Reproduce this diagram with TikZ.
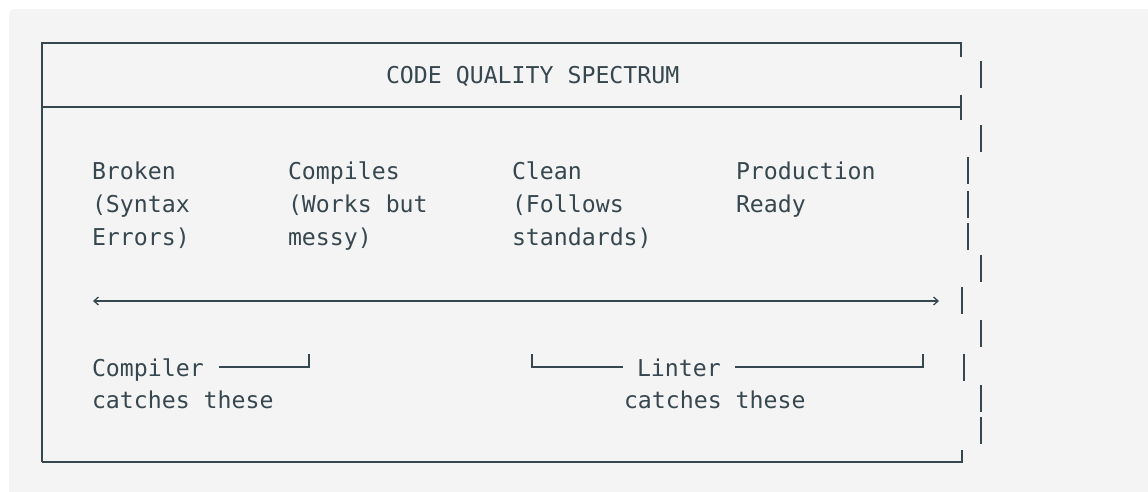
\documentclass[tikz,border=0pt]{standalone}
\usepackage{fontspec}
\setmonofont{DejaVu Sans Mono}
\usetikzlibrary{arrows.meta}
\definecolor{ink}{HTML}{37474F}
\definecolor{bg}{HTML}{F4F4F4}
\tikzset{
  txt/.style={anchor=base west, inner sep=0pt, outer sep=0pt, text=ink, font=\fontsize{23.2}{33}\selectfont\ttfamily},
  rule/.style={draw=ink, line width=2pt},
  tick/.style={draw=ink, line width=2pt},
  spec/.style={draw=ink, line width=2pt, {Straight Barb[length=4.5pt,width=8pt,line width=1.3pt]}-{Straight Barb[length=4.5pt,width=8pt,line width=1.3pt]}},
}
\begin{document}
\begin{tikzpicture}[x=1pt,y=-1pt]
\useasboundingbox (0,0) rectangle (1148,491);
\clip (0,0) rectangle (1148,491);
\fill[bg, rounded corners=6pt] (9,9) rectangle (1170,510);
% outer box
\path[rule] (42,462) -- (42,43) -- (961,43) -- (961,57);
\path[rule] (42,107) -- (961,107);
\path[tick] (961,95) -- (961,120);
\path[rule] (42,462) -- (962,462) -- (962,450);
% right border pieces (misaligned)
\foreach \x/\y in {981/74, 981/138.5, 967.5/170.5, 967.5/204.5, 967.5/236.5, 981/268.5, 961.5/300.5, 981/333.5, 964/367, 981/398.5, 981/430.5}
  \path[tick] (\x,\y-13.5) -- (\x,\y+13.5);
% texts
\node[txt] (title) at (386,83) {CODE QUALITY SPECTRUM};
\node[txt] (broken1) at (92,179) {Broken};
\node[txt] (broken2) at (92,212) {(Syntax};
\node[txt] (broken3) at (92,245) {Errors)};
\node[txt] (compiles1) at (288,179) {Compiles};
\node[txt] (compiles2) at (288,212) {(Works but};
\node[txt] (compiles3) at (288,245) {messy)};
\node[txt] (clean1) at (512,179) {Clean};
\node[txt] (clean2) at (512,212) {(Follows};
\node[txt] (clean3) at (512,245) {standards)};
\node[txt] (prod1) at (736,179) {Production};
\node[txt] (prod2) at (736,212) {Ready};
% spectrum arrow
\coordinate (aL) at (93,301);
\coordinate (aR) at (939,301);
\path[spec] (aL) -- (aR);
% compiler
\node[txt] (compiler) at (92,376) {Compiler};
\node[txt] (catchA) at (92,408) {catches these};
\coordinate (cS) at (219,367);
\coordinate (cE) at (309,354);
\path[rule] (cS) -- (309,367) -- (cE);
% linter
\node[txt] (linter) at (637,376) {Linter};
\node[txt] (catchB) at (624,408) {catches these};
\coordinate (lA) at (532,354);
\coordinate (lB) at (923,354);
\path[rule] (lA) -- (532,367) -- (623,367);
\path[rule] (735,367) -- (923,367) -- (lB);
\end{tikzpicture}
\end{document}
